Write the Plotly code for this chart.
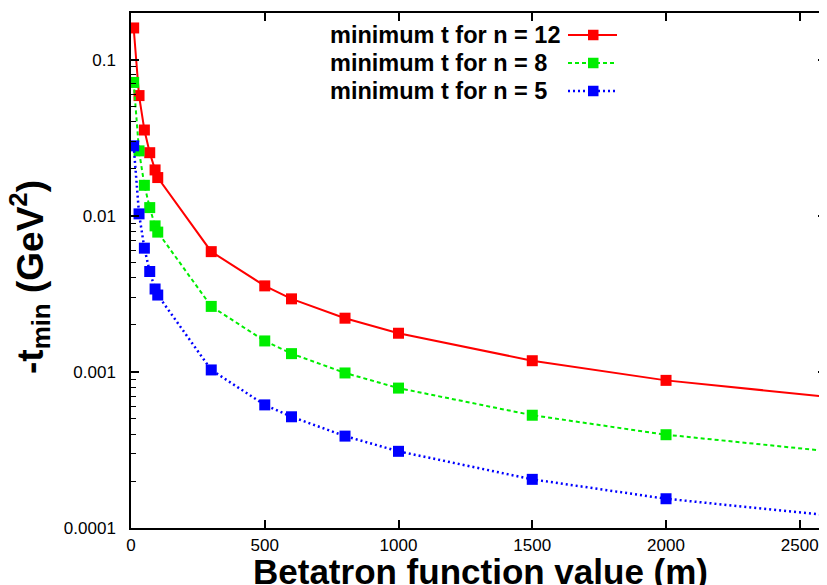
import plotly.graph_objects as go

# ---- data ----
beta = [10, 30, 50, 70, 90, 100, 300, 500, 600, 800, 1000, 1500, 2000, 3000]
t_n12 = [0.160, 0.059, 0.0355, 0.0254, 0.0197, 0.0176, 0.0059, 0.00356, 0.00294,
         0.00221, 0.00177, 0.00118, 0.000883, 0.00059]
t_n8 = [0.0716, 0.0261, 0.0157, 0.0113, 0.00863, 0.00787, 0.00263, 0.00158, 0.00131,
        0.000985, 0.000788, 0.000528, 0.000396, 0.000265]
t_n5 = [0.0281, 0.0103, 0.00621, 0.0044, 0.0034, 0.00311, 0.00103, 0.000615, 0.000516,
        0.000388, 0.00031, 0.000205, 0.000154, 0.000103]
series_names = ["minimum t for n = 12", "minimum t for n = 8", "minimum t for n = 5"]
x_tickvals = [0, 500, 1000, 1500, 2000, 2500]

colors = ["#ff0000", "#00ee00", "#0000ff"]
dashes = ["solid", "4px,3px", "2px,3px"]
widths = [2, 2, 2.5]

# The page body has an 8px default margin; size the figure so that the plot
# area lands at page pixels x 131..826, y 13..528.
OFF = 8
W, H = 827 - OFF, 585 - OFF
ML, MR, MT, MB = 131 - OFF, 1, 13 - OFF, 57
PLOT_L, PLOT_B = 131, 528
PW, PH = W - ML - MR, H - MT - MB

fig = go.Figure()
for ys, name, c, d, w in zip([t_n12, t_n8, t_n5], series_names, colors, dashes, widths):
    fig.add_trace(go.Scatter(
        x=beta, y=ys, mode="lines+markers", name=name, showlegend=False,
        line=dict(color=c, width=w, dash=d),
        marker=dict(symbol="square", size=11, color=c, line=dict(width=0)),
    ))

tickfont = dict(family="Liberation Sans", size=17, color="black")

fig.update_xaxes(range=[0, 2598], tickmode="array", tickvals=x_tickvals,
                 ticks="inside", ticklen=8, tickwidth=1.5, tickcolor="black",
                 showline=True, linecolor="black", linewidth=1.5, mirror="ticks",
                 showgrid=False, zeroline=False, automargin=False,
                 tickfont=tickfont, ticklabelstandoff=1)
fig.update_yaxes(type="log", range=[-4, -0.70], dtick=1, exponentformat="none",
                 ticks="inside", ticklen=8, tickwidth=1.5, tickcolor="black",
                 showline=True, linecolor="black", linewidth=1.5, mirror="ticks",
                 showgrid=False, zeroline=False, automargin=False,
                 tickfont=tickfont, ticklabelstandoff=10,
                 minor=dict(dtick="D1", ticks="inside", ticklen=5, tickcolor="black",
                            tickwidth=1.2, showgrid=False))

annotations = []
shapes = []

def px_x(p):
    return (p - PLOT_L) / PW

def px_y(p):
    return (PLOT_B - p) / PH

# axis titles
annotations.append(dict(text="-t<sub>min</sub> (GeV<sup>2</sup>)", textangle=-90,
                        xref="paper", yref="paper", x=px_x(29), y=px_y(277),
                        xanchor="center", yanchor="middle", showarrow=False,
                        font=dict(family="Liberation Sans", size=37, color="black", weight="bold")))
annotations.append(dict(text="Betatron function value (m)",
                        xref="paper", yref="paper", x=px_x(480), y=px_y(550),
                        xanchor="center", yanchor="top", showarrow=False,
                        font=dict(family="Liberation Sans", size=35, color="black", weight="bold")))

# legend (text followed by key, gnuplot style)
leg_y = [35, 63, 91]
for name, c, d, w, ly in zip(series_names, colors, dashes, widths, leg_y):
    annotations.append(dict(text=name, xref="paper", yref="paper", x=px_x(328), y=px_y(ly),
                            xanchor="left", yanchor="middle", showarrow=False,
                            font=dict(family="Liberation Sans", size=23.5, color="black",
                                      weight="bold")))
    shapes.append(dict(type="line", xref="paper", yref="paper",
                       x0=px_x(568), x1=px_x(617), y0=px_y(ly), y1=px_y(ly),
                       line=dict(color=c, width=w, dash=d)))
    shapes.append(dict(type="rect", xref="paper", yref="paper",
                       x0=px_x(588), x1=px_x(598.5), y0=px_y(ly - 5.25), y1=px_y(ly + 5.25),
                       fillcolor=c, line=dict(width=0)))

fig.update_layout(width=W, height=H, margin=dict(l=ML, r=MR, t=MT, b=MB),
                  paper_bgcolor="white", plot_bgcolor="white",
                  annotations=annotations, shapes=shapes, showlegend=False,
                  font=dict(family="Liberation Sans", color="black"))

fig.write_html("out.html")
